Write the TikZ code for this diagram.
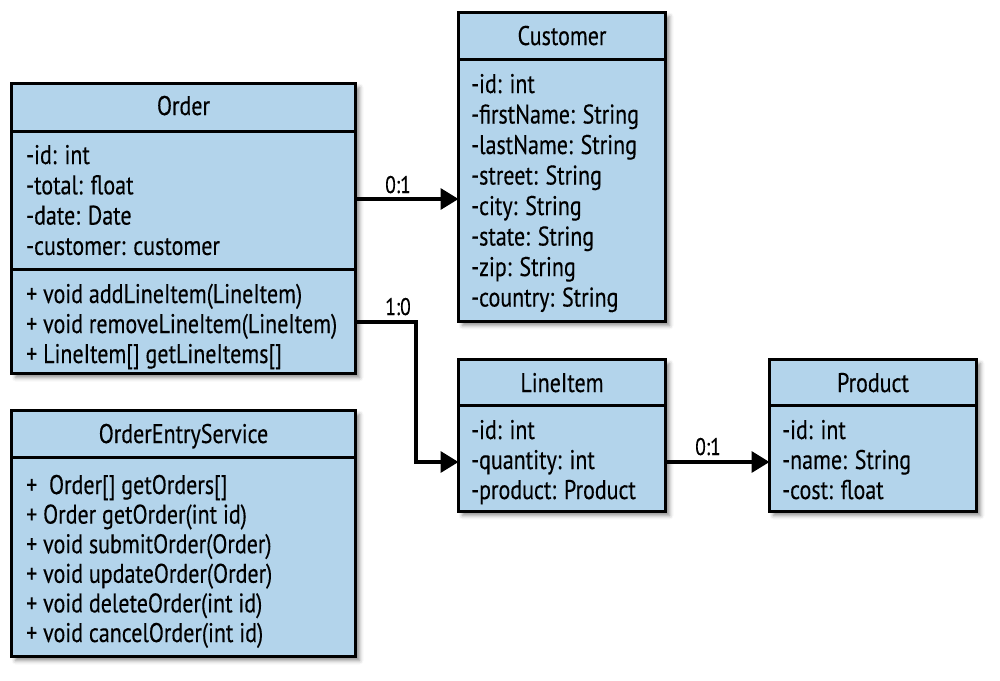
\documentclass[tikz,border=0pt]{standalone}
\usepackage{fontspec}
\setmainfont{PT Sans}
\newfontfamily\umlfont[FakeStretch=0.815,FakeBold=0.3]{PT Sans}
\usetikzlibrary{arrows.meta,shadows.blur}
\definecolor{umlblue}{RGB}{179,212,235}
\begin{document}
\begin{tikzpicture}[x=1pt,y=-1pt,
  cls/.style={draw=black, line width=3pt, fill=umlblue, anchor=north west,
    inner sep=0pt, outer sep=0pt,
    blur shadow={shadow xshift=4pt, shadow yshift=-4pt, shadow blur radius=4pt, shadow opacity=45}},
  sepline/.style={line width=3pt, draw=black},
  txt/.style={anchor=base west, inner sep=0pt, font=\umlfont\fontsize{27}{30}\selectfont},
  ttl/.style={anchor=base, inner sep=0pt, font=\umlfont\fontsize{27}{30}\selectfont},
  mult/.style={anchor=base, inner sep=0pt, font=\umlfont\fontsize{24}{26}\selectfont},
  conn/.style={line width=3.5pt, draw=black, -{Triangle[length=18pt,width=21pt]}}
]
\useasboundingbox (0,0) rectangle (1000,680);

% class boxes
\node[cls, minimum width=344pt, minimum height=290pt] (order) at (11.5,83.5) {};
\node[cls, minimum width=207pt, minimum height=309pt] (customer) at (458.5,12.5) {};
\node[cls, minimum width=207pt, minimum height=152pt] (lineitem) at (458.5,359.5) {};
\node[cls, minimum width=207pt, minimum height=152pt] (product) at (769.5,359.5) {};
\node[cls, minimum width=344pt, minimum height=246pt] (oes) at (11.5,410.5) {};

% compartment separators
\draw[sepline] (order.west |- 0,131) -- (order.east |- 0,131);
\draw[sepline] (order.west |- 0,269) -- (order.east |- 0,269);
\draw[sepline] (customer.west |- 0,59.5) -- (customer.east |- 0,59.5);
\draw[sepline] (lineitem.west |- 0,405.5) -- (lineitem.east |- 0,405.5);
\draw[sepline] (product.west |- 0,405.5) -- (product.east |- 0,405.5);
\draw[sepline] (oes.west |- 0,457) -- (oes.east |- 0,457);

% titles
\node[ttl] (orderT) at (183.5,115) {Order};
\node[ttl] (customerT) at (562,45) {Customer};
\node[ttl] (lineitemT) at (562,392) {LineItem};
\node[ttl] (productT) at (873,392) {Product};
\node[ttl] (oesT) at (183.5,443) {OrderEntryService};

% Order
\foreach \t [count=\i] in {-id: int, -total: float, -date: Date, -customer: customer}
  \node[txt] (orderA\i) at ({26},{164+30.3*(\i-1)}) {\t};
\foreach \t [count=\i] in {+ void addLineItem(LineItem), + void removeLineItem(LineItem), + LineItem[] getLineItems[]}
  \node[txt] (orderM\i) at ({26},{303+30*(\i-1)}) {\t};

% Customer
\foreach \t [count=\i] in {-id: int, -firstName: String, -lastName: String, -street: String, -city: String, -state: String, -zip: String, -country: String}
  \node[txt] (customerA\i) at ({471},{93+30.5*(\i-1)}) {\t};

% LineItem
\foreach \t [count=\i] in {-id: int, -quantity: int, -product: Product}
  \node[txt] (lineitemA\i) at ({471},{439+30*(\i-1)}) {\t};

% Product
\foreach \t [count=\i] in {-id: int, -name: String, -cost: float}
  \node[txt] (productA\i) at ({782},{439+30*(\i-1)}) {\t};

% OrderEntryService
\foreach \t [count=\i] in {+\ \ Order[] getOrders[], + Order getOrder(int id), + void submitOrder(Order), + void updateOrder(Order), + void deleteOrder(int id), + void cancelOrder(int id)}
  \node[txt] (oesM\i) at ({26},{494+29.6*(\i-1)}) {\t};

% connectors
\draw[conn] (order.east |- 0,199) -- (customer.west |- 0,199);
\draw[conn] (order.east |- 0,322) -- (416,322) |- (lineitem.west |- 0,462);
\draw[conn] (lineitem.east |- 0,462) -- (product.west |- 0,462);

% multiplicities
\node[mult] (m1) at (398,193) {0:1};
\node[mult] (m2) at (398,315) {1:0};
\node[mult] (m3) at (708,455) {0:1};
\end{tikzpicture}
\end{document}
